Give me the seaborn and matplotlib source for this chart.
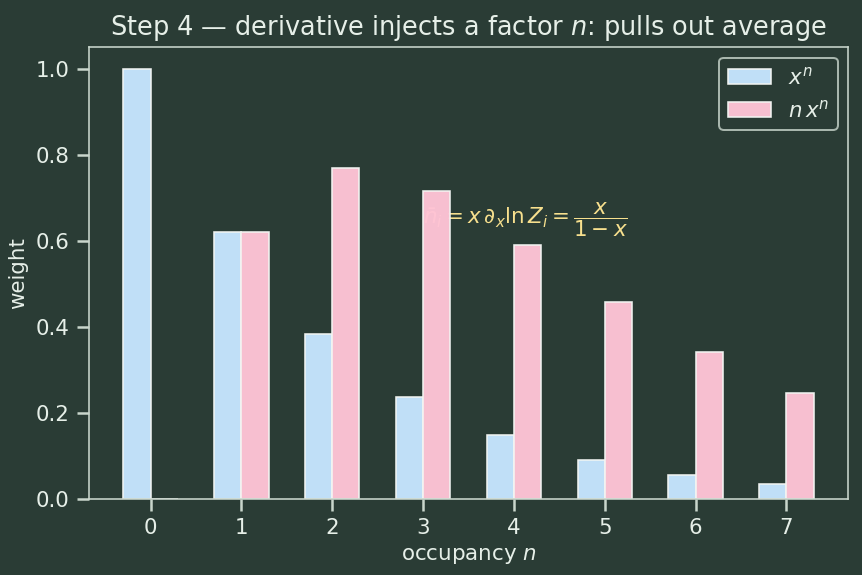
import numpy as np
import pandas as pd
import seaborn as sns
import matplotlib.pyplot as plt

# === Data ===
occupancy = [0, 1, 2, 3, 4, 5, 6, 7]
x_pow_n = [1.0, 0.62, 0.384, 0.238, 0.148, 0.092, 0.057, 0.035]
n_x_pow_n = [0.0, 0.62, 0.769, 0.715, 0.591, 0.458, 0.341, 0.246]
series_names = ["$x^n$", "$n\\,x^n$"]

bg = "#2a3c35"
fg = "#e6efe8"
spine_col = "#c9d6cc"
palette = ["#c6e5ff", "#ffc4d6"]

df = pd.DataFrame({
    "n": occupancy * 2,
    "weight": x_pow_n + n_x_pow_n,
    "series": [series_names[0]] * len(occupancy) + [series_names[1]] * len(occupancy),
})

sns.set_theme(style="ticks")
base = 10.7
plt.rcParams.update({
    "figure.facecolor": bg,
    "axes.facecolor": bg,
    "axes.edgecolor": spine_col,
    "axes.labelcolor": fg,
    "text.color": fg,
    "xtick.color": spine_col,
    "ytick.color": spine_col,
    "xtick.labelcolor": fg,
    "ytick.labelcolor": fg,
    "font.size": base,
    "axes.titlesize": 12.8,
    "axes.labelsize": base,
    "xtick.labelsize": base,
    "ytick.labelsize": base,
    "legend.fontsize": base,
})
plt.rcParams["font.family"] = ["DejaVu Sans"]

fig = plt.figure(figsize=(862 / 144, 575 / 144), dpi=144)
ax = fig.add_axes([0.103, 0.132, 0.881, 0.786])

sns.barplot(data=df, x="n", y="weight", hue="series", palette=palette,
            saturation=1, width=0.6, edgecolor="#f2f5f2", linewidth=0.8,
            alpha=0.97, ax=ax, zorder=2)

ax.set_xlim(-0.68, 7.68)
ax.set_ylim(0, 1.05)
ax.set_yticks([0.0, 0.2, 0.4, 0.6, 0.8, 1.0])
ax.set_xlabel("occupancy $n$")
ax.set_ylabel("weight")
ax.set_title("Step 4 — derivative injects a factor $n$: pulls out average", color=fg)

ax.text(3.0, 0.65, r"$\bar{n}_i = x\,\partial_x \ln Z_i = \dfrac{x}{1-x}$",
        color="#f7e08e", fontsize=10.7, ha="left", va="center", zorder=1)

for s in ax.spines.values():
    s.set_color(spine_col)
    s.set_linewidth(0.8)

leg = ax.legend(loc="upper right", frameon=True)
leg.get_frame().set_facecolor(bg)
leg.get_frame().set_edgecolor(spine_col)
for t in leg.get_texts():
    t.set_color(fg)

fig.savefig("out.png", dpi=144, facecolor=bg)
